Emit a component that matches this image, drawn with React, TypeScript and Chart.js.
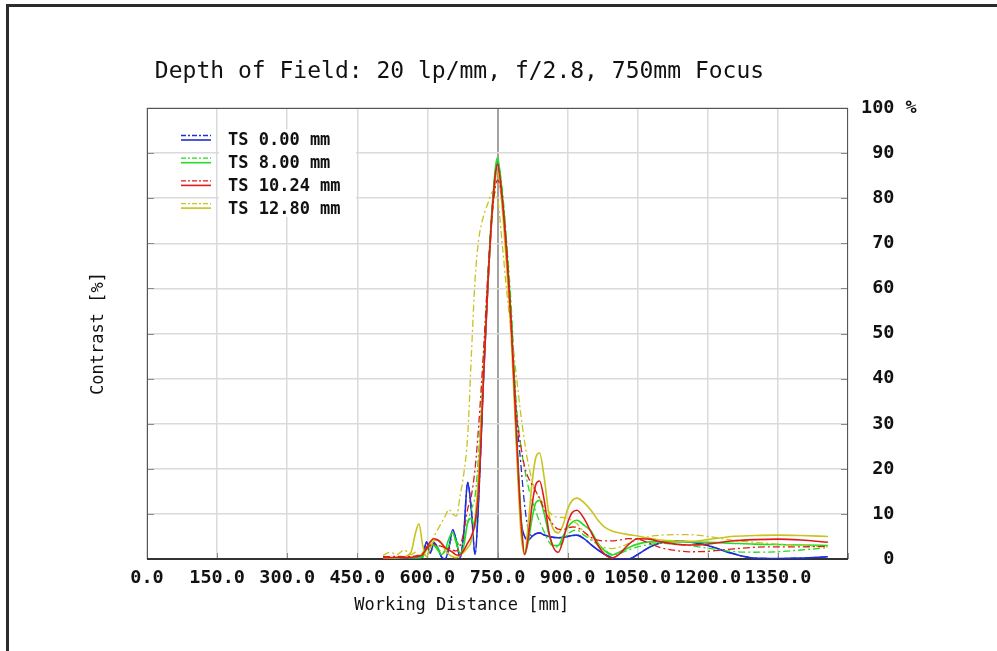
import React, { useEffect, useRef } from 'react';
import { Chart, registerables } from 'chart.js';

Chart.register(...registerables);

// ---- data ----
const TITLE = 'Depth of Field: 20 lp/mm, f/2.8, 750mm Focus';
const X_TITLE = 'Working Distance [mm]';
const Y_TITLE = 'Contrast [%]';

const TS_LABELS = ['TS 0.00 mm', 'TS 8.00 mm', 'TS 10.24 mm', 'TS 12.80 mm'];
const COLORS = ['#1f2ed6', '#22dd22', '#e01b1b', '#c9c31c'];

const X_TICKS = [0, 150, 300, 450, 600, 750, 900, 1050, 1200, 1350, 1500];
const Y_TICKS = [0, 10, 20, 30, 40, 50, 60, 70, 80, 90, 100];

// working distance (mm)
const X_MM = [
  505, 520, 535, 550, 565, 575, 582, 590, 598, 606,
  614, 622, 630, 638, 646, 654, 662, 670, 678, 686,
  694, 702, 710, 720, 730, 740, 750, 760, 770, 780,
  790, 800, 808, 816, 824, 832, 840, 850, 860, 870,
  880, 890, 900, 910, 920, 935, 950, 965, 980, 995,
  1010, 1030, 1050, 1075, 1100, 1130, 1160, 1200, 1250, 1300,
  1350, 1400, 1457,
];

// contrast (%), solid = sagittal, dash-dot = tangential
const BLUE_S = [
  0.2, 0.2, 0.2, 0.2, 0.2, 0.3, 0.3, 0.5, 3.8, 1.3,
  3.6, 2.5, 0.5, 0, 2.5, 6.5, 4, 0.3, 6, 17,
  11, 1, 14, 40, 62, 79, 88, 80, 67, 51,
  28, 9, 5, 4.2, 5, 5.6, 5.8, 5.3, 5, 4.8,
  4.7, 4.8, 5, 5.2, 5.3, 4.5, 3.2, 2, 1, 0.3,
  0, 0, 1, 2.6, 3.6, 4, 3.8, 3, 1.3, 0.2,
  0.1, 0.2, 0.5,
];
const BLUE_T = [
  0.2, 0.2, 0.2, 0.2, 0.2, 0.3, 0.3, 0.5, 3.8, 1.3,
  3.6, 2.5, 0.5, 0, 2.5, 6.5, 4, 0.3, 6, 17,
  11, 1, 14, 40, 62, 79, 88, 80, 67, 52,
  33, 21, 12, 6.5, 5.2, 5.6, 5.8, 5.3, 5, 4.8,
  4.7, 4.8, 5, 5.2, 5.3, 4.5, 3.2, 2, 1, 0.3,
  0, 0, 1, 2.6, 3.6, 4, 3.8, 3, 1.3, 0.2,
  0.1, 0.2, 0.5,
];
const GREEN_S = [
  0.2, 0.2, 0.3, 0.3, 0.3, 0.3, 0.3, 0.5, 2.5, 3.2,
  3.0, 2.0, 1.0, 2.0, 4.5, 5.8, 3.5, 1.3, 3, 8,
  9, 7, 18, 42, 63, 80, 89, 81, 68, 52,
  30, 10, 1, 4, 9, 12.5, 13, 10, 5.5, 3,
  3, 5, 7, 8.2, 8.6, 7.5, 6.2, 3.5, 1.8, 0.9,
  1.5, 2.5, 3.3, 3.8, 3.8, 3.8, 3.8, 3.7, 3.5, 3.3,
  3.2, 3.1, 3.0,
];
const GREEN_T = [
  0.3, 0.3, 0.3, 0.3, 0.3, 0.3, 0.3, 0.5, 2, 3,
  3.2, 2.5, 1.5, 1.5, 3, 4.5, 4, 3, 4, 8,
  11, 14, 24, 44, 64, 80, 88, 82, 70, 55,
  35, 25, 20, 16, 13, 10.5, 8.3, 6, 3.8, 2.8,
  2.7, 4, 5.5, 6.2, 6.4, 5.3, 4.2, 3.2, 2, 1,
  1.2, 2, 2.7, 3.2, 3.5, 3.3, 3, 2.4, 1.7, 1.5,
  1.6, 2, 2.5,
];
const RED_S = [
  0.3, 0.3, 0.4, 0.3, 0.4, 0.5, 0.6, 1, 2.5, 3.8,
  4.5, 4.2, 3.5, 2.5, 2, 1.5, 0.9, 0.9, 2, 3.5,
  5, 8, 16, 40, 62, 79, 87.5, 80, 67, 51,
  29, 9, 1, 5, 12, 16.5, 17.3, 13, 6, 2.5,
  1.5, 4, 8, 10.3, 10.8, 9, 6, 3, 1, 0.2,
  1, 3.2, 4.5, 4.4, 3.8, 3.3, 3.1, 3.3, 4, 4.3,
  4.4, 4.2, 3.7,
];
const RED_T = [
  0.5, 0.5, 0.6, 0.5, 0.6, 0.7, 0.8, 1.2, 2.2, 3,
  3.2, 3, 2.8, 2.6, 2.5, 2, 1.8, 3, 6, 11,
  14, 20, 30, 46, 64, 78, 84, 80, 68, 50,
  33, 25, 20.5, 18, 16.5, 15, 13.5, 11, 9, 7.5,
  6.6, 6.5, 6.9, 7.1, 7, 6, 4.8, 4.2, 4, 4,
  4.2, 4.5, 4.4, 3.5, 2.5, 1.9, 1.6, 1.7, 2.2, 2.6,
  2.7, 2.7, 2.8,
];
const YELLOW_S = [
  0.2, 0.2, 0.3, 0.5, 1.5, 6, 7.8, 3, 0.5, 2.5,
  4, 4.2, 3.5, 2, 1, 0.5, 0.3, 0.8, 1.5, 2.5,
  4, 9, 20, 42, 62, 78, 86, 78, 64, 48,
  26, 6, 1, 8, 17, 22.5, 23.5, 18, 10, 6.5,
  5.8, 7.5, 11, 13, 13.5, 12.5, 10.8, 8.6, 7, 6.2,
  5.8, 5.4, 5.1, 4.6, 4.2, 4, 3.9, 4.3, 5, 5.2,
  5.3, 5.2, 5,
];
const YELLOW_T = [
  0.8, 1.5, 1.0, 2, 1, 1.5, 0.5, 1.5, 2.5, 3.5,
  5, 6.5, 8, 9.5, 11, 10, 9.5, 14, 19, 27,
  45, 62, 71, 76, 79, 81.5, 80, 70, 59, 50,
  41, 32, 26, 21, 17.5, 15, 13.5, 12, 10.5, 9.5,
  9.3, 9.2, 9, 8.5, 7.8, 6, 4.5, 3.2, 2.5, 2.3,
  2.6, 3.4, 4.3, 5, 5.3, 5.4, 5.4, 5, 4.2, 3.7,
  3.3, 3, 2.7,
];

const SERIES_S = [BLUE_S, GREEN_S, RED_S, YELLOW_S];
const SERIES_T = [BLUE_T, GREEN_T, RED_T, YELLOW_T];
// drawing order (lower = on top)
const ORDER_S = [6, 4, 0, 2];
const ORDER_T = [7, 5, 1, 3];

const FONT = '"DejaVu Sans Mono", "Liberation Mono", monospace';
const DASH = [7, 3, 2, 3];

const toPoints = (ys: number[]) => X_MM.map((x, i) => ({ x, y: ys[i] }));

const framePlugin = {
  id: 'frame',
  beforeDatasetsDraw(chart: any) {
    const { ctx, chartArea: a, scales } = chart;
    const seg = (x1: number, y1: number, x2: number, y2: number) => {
      ctx.beginPath();
      ctx.moveTo(x1, y1);
      ctx.lineTo(x2, y2);
      ctx.stroke();
    };
    ctx.save();
    ctx.strokeStyle = '#8a8a8a';
    ctx.lineWidth = 1;
    for (const v of Y_TICKS) {
      const y = Math.round(scales.y.getPixelForValue(v)) + 0.5;
      seg(a.left, y, a.left + 7, y);
      seg(a.right - 7, y, a.right, y);
    }
    for (const v of X_TICKS) {
      const x = Math.round(scales.x.getPixelForValue(v)) + 0.5;
      seg(x, a.bottom - 6, x, a.bottom);
    }
    ctx.strokeStyle = '#555';
    ctx.lineWidth = 1;
    ctx.strokeRect(a.left + 0.5, a.top + 0.5, a.right - a.left - 1, a.bottom - a.top - 1);
    ctx.strokeStyle = '#333';
    ctx.lineWidth = 2;
    seg(a.left, a.bottom, a.right, a.bottom);
    ctx.restore();
  },
};

const legendPlugin = {
  id: 'tsLegend',
  afterDatasetsDraw(chart: any) {
    const { ctx, chartArea: a } = chart;
    const seg = (x1: number, y1: number, x2: number, y2: number) => {
      ctx.beginPath();
      ctx.moveTo(x1, y1);
      ctx.lineTo(x2, y2);
      ctx.stroke();
    };
    ctx.save();
    ctx.fillStyle = '#fff';
    ctx.fillRect(a.left + 72, a.top + 21, 137, 88);
    TS_LABELS.forEach((t, i) => {
      const y = a.top + 32 + i * 22.7;
      ctx.strokeStyle = COLORS[i];
      ctx.lineWidth = 1.3;
      ctx.setLineDash([5, 2, 2, 2]);
      seg(a.left + 34, y - 4.5, a.left + 64, y - 4.5);
      ctx.setLineDash([]);
      ctx.lineWidth = 1.6;
      seg(a.left + 34, y, a.left + 64, y);
      ctx.fillStyle = '#111';
      ctx.font = 'bold 17px ' + FONT;
      ctx.textBaseline = 'middle';
      ctx.textAlign = 'left';
      ctx.fillText(t, a.left + 81, y + 1);
    });
    ctx.restore();
  },
};

export default function App() {
  const ref = useRef<HTMLCanvasElement>(null);

  useEffect(() => {
    if (!ref.current) return;
    Chart.defaults.font.family = FONT;
    Chart.defaults.color = '#111';

    const datasets: any[] = [];
    TS_LABELS.forEach((label, i) => {
      datasets.push({
        label: label + ' T',
        data: toPoints(SERIES_T[i]),
        borderColor: COLORS[i],
        borderWidth: 1.3,
        borderDash: DASH,
        pointRadius: 0,
        fill: false,
        cubicInterpolationMode: 'monotone',
        order: ORDER_T[i],
      });
      datasets.push({
        label: label + ' S',
        data: toPoints(SERIES_S[i]),
        borderColor: COLORS[i],
        borderWidth: 1.6,
        pointRadius: 0,
        fill: false,
        cubicInterpolationMode: 'monotone',
        order: ORDER_S[i],
      });
    });

    const chart = new Chart(ref.current, {
      type: 'line',
      data: { datasets },
      options: {
        animation: false,
        responsive: false,
        devicePixelRatio: 1,
        layout: { padding: { left: 0, right: 78, top: 0, bottom: 0 } },
        plugins: {
          legend: { display: false },
          tooltip: { enabled: false },
          title: {
            display: true,
            text: TITLE,
            color: '#111',
            font: { size: 23, weight: 'normal', family: FONT },
            padding: { top: 58, bottom: 22.4 },
          },
        },
        scales: {
          x: {
            type: 'linear',
            min: 0,
            max: 1500,
            ticks: {
              stepSize: 150,
              autoSkip: false,
              maxRotation: 0,
              padding: 8,
              color: '#111',
              font: { size: 18.5, weight: 'bold', family: FONT },
              callback: (v: any) => (v === 1500 ? '' : Number(v).toFixed(1)),
            },
            grid: {
              drawTicks: false,
              color: (c: any) => (c.tick && c.tick.value === 750 ? '#a3a3a3' : '#dadada'),
              lineWidth: (c: any) => (c.tick && c.tick.value === 750 ? 2 : 1.5),
            },
            border: { display: false },
            title: {
              display: true,
              text: X_TITLE + '       ',
              color: '#111',
              font: { size: 17, family: FONT },
              padding: { top: 0, bottom: 35 },
            },
            afterFit: (s: any) => { s.height = 92; },
          },
          y: {
            type: 'linear',
            position: 'right',
            min: 0,
            max: 100,
            ticks: {
              stepSize: 10,
              padding: 13,
              color: '#111',
              font: { size: 18.5, weight: 'bold', family: FONT },
              callback: (v: any) => (v === 100 ? '100 %' : String(v).padStart(3, ' ')),
            },
            grid: { drawTicks: false, color: '#dadada', lineWidth: 1.5 },
            border: { display: false },
            afterFit: (s: any) => { s.width = 71; },
          },
          yL: {
            type: 'linear',
            position: 'left',
            min: 0,
            max: 100,
            ticks: { display: false },
            grid: { display: false, drawOnChartArea: false },
            border: { display: false },
            title: {
              display: true,
              text: Y_TITLE,
              color: '#111',
              font: { size: 17, family: FONT },
              padding: { top: 88, bottom: 0 },
            },
            afterFit: (s: any) => { s.width = 147; },
          },
        },
      } as any,
      plugins: [framePlugin, legendPlugin],
    });
    return () => chart.destroy();
  }, []);

  return (
    <div
      style={{
        position: 'absolute',
        left: 0,
        top: 0,
        width: 997,
        height: 651,
        background: '#fff',
        overflow: 'hidden',
      }}
    >
      <canvas ref={ref} width={997} height={651} style={{ display: 'block', width: 997, height: 651 }} />
      <div style={{ position: 'absolute', left: 7, top: 4, right: 0, height: 3, background: '#2b2b2b' }} />
      <div style={{ position: 'absolute', left: 6, top: 4, width: 3, bottom: 0, background: '#2b2b2b' }} />
    </div>
  );
}
